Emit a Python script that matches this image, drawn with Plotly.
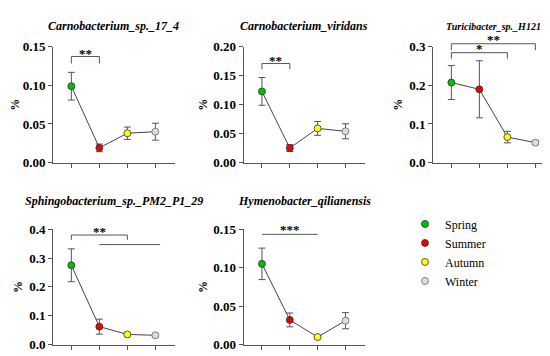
import plotly.graph_objects as go

seasons = ["Spring", "Summer", "Autumn", "Winter"]
season_colors = ["#00c000", "#ee0000", "#ffff00", "#dcdcdc"]
season_edges = ["#333333", "#333333", "#333333", "#666666"]

titles = ["Carnobacterium_sp._17_4", "Carnobacterium_viridans", "Turicibacter_sp._H121",
          "Sphingobacterium_sp._PM2_P1_29", "Hymenobacter_qilianensis"]
title_sizes = [12, 12, 10, 12, 12]

means_1 = [0.099, 0.019, 0.038, 0.040]
errs_1 = [0.018, 0.005, 0.008, 0.011]
means_2 = [0.123, 0.025, 0.059, 0.054]
errs_2 = [0.024, 0.006, 0.012, 0.013]
means_3 = [0.2075, 0.190, 0.066, 0.0515]
errs_3 = [0.044, 0.074, 0.015, 0.005]
means_4 = [0.275, 0.062, 0.035, 0.032]
errs_4 = [0.057, 0.026, 0.004, 0.004]
means_5 = [0.105, 0.032, 0.0097, 0.031]
errs_5 = [0.0205, 0.009, 0.002, 0.0105]

yticks_1 = [0.0, 0.05, 0.10, 0.15]
yticks_2 = [0.0, 0.05, 0.10, 0.15, 0.20]
yticks_3 = [0.0, 0.1, 0.2, 0.3]
yticks_4 = [0.0, 0.1, 0.2, 0.3, 0.4]
yticks_5 = [0.0, 0.05, 0.10, 0.15]
tickdec = [2, 2, 1, 1, 2]

# significance brackets: (from, to, bar level, drop level or None, label, label level)
brackets_1 = [(0, 1, 0.1376, 0.1284, "**", 0.1417)]
brackets_2 = [(0, 1, 0.1712, 0.1612, "**", 0.1773)]
brackets_3 = [(0, 3, 0.3082, 0.2915, "**", 0.318), (0, 2, 0.285, 0.269, "*", 0.295)]
brackets_4 = [(0, 2, 0.380, 0.3634, "**", 0.3924), (1, 3.17, 0.3468, None, "", None)]
brackets_5 = [(0, 2, 0.1434, None, "***", 0.1496)]

means = [means_1, means_2, means_3, means_4, means_5]
errs = [errs_1, errs_2, errs_3, errs_4, errs_5]
yticks = [yticks_1, yticks_2, yticks_3, yticks_4, yticks_5]
brackets = [brackets_1, brackets_2, brackets_3, brackets_4, brackets_5]

W, H = 550, 356
xdoms_px = [(45, 166.7), (235.7, 356.7), (425, 546.7), (45, 166.7), (235.7, 356.7)]
ydoms_px = [(33.3, 154), (33.3, 154), (33.3, 154), (223.7, 344), (223.7, 344)]
title_y_px = [11.7, 11.7, 11.7, 194.5, 194.5]
xrange_ = [-0.655, 3.69]
FONT = "Liberation Serif, Times New Roman, serif"
GREY = "#555555"


def fnt(size):
    return dict(family=FONT, size=size, color="black")


fig = go.Figure()
layout = dict(width=W, height=H, margin=dict(l=0, r=0, t=0, b=0),
              paper_bgcolor="white", plot_bgcolor="white", font=fnt(12))
shapes, annotations = [], []

for i in range(5):
    n = i + 1
    sx = "" if n == 1 else str(n)
    xa, ya = "x" + sx, "y" + sx
    fig.add_trace(go.Scatter(
        x=list(range(4)), y=means[i], mode="lines+markers",
        xaxis=xa, yaxis=ya, showlegend=False,
        line=dict(color="#444444", width=1),
        marker=dict(size=7, color=season_colors, line=dict(color=season_edges, width=0.8)),
        error_y=dict(type="data", array=errs[i], color=GREY, thickness=1, width=3.5),
        cliponaxis=False,
    ))
    x0, x1 = xdoms_px[i]
    yt, yb = ydoms_px[i]
    top = yticks[i][-1]
    layout["xaxis" + sx] = dict(
        domain=[x0 / W, x1 / W], range=xrange_, tickvals=[0, 1, 2, 3],
        showticklabels=False, ticks="outside", ticklen=4, tickwidth=1, tickcolor=GREY,
        showline=True, linecolor=GREY, linewidth=1, showgrid=False, zeroline=False,
        anchor=ya, fixedrange=True)
    layout["yaxis" + sx] = dict(
        domain=[1 - yb / H, 1 - yt / H], range=[0, top], tickvals=yticks[i],
        ticktext=["<b>" + f"{v:.{tickdec[i]}f}" + "</b>" for v in yticks[i]],
        ticks="outside", ticklen=4, tickwidth=1, tickcolor=GREY,
        tickfont=fnt(13),
        showline=True, linecolor=GREY, linewidth=1, showgrid=False, zeroline=False,
        anchor=xa, fixedrange=True,
        title=dict(text="<b>%</b>", standoff=3, font=fnt(12)))
    annotations.append(dict(
        text="<b><i>" + titles[i] + "</i></b>", xref=xa + " domain", x=0.5, yref="paper",
        y=1 - title_y_px[i] / H, xanchor="center", yanchor="middle", showarrow=False,
        font=fnt(title_sizes[i])))
    for (a, b, lvl, drop, lab, laby) in brackets[i]:
        yd = ya + " domain"
        shapes.append(dict(type="line", xref=xa, yref=yd, x0=a, x1=b, y0=lvl / top, y1=lvl / top,
                           line=dict(color=GREY, width=1)))
        if drop is not None:
            for xx in (a, b):
                shapes.append(dict(type="line", xref=xa, yref=yd, x0=xx, x1=xx,
                                   y0=lvl / top, y1=drop / top, line=dict(color=GREY, width=1)))
        if lab:
            annotations.append(dict(
                text="<b>" + lab + "</b>", xref=xa, yref=yd, x=(a + b) / 2, y=laby / top,
                xanchor="center", yanchor="middle", showarrow=False, font=fnt(13)))

for s, c, e in zip(seasons, season_colors, season_edges):
    fig.add_trace(go.Scatter(
        x=[None], y=[None], mode="markers", name=s,
        marker=dict(size=7, color=c, line=dict(color=e, width=0.8))))

layout["legend"] = dict(x=397 / W, y=1 - 203 / H, xanchor="left", yanchor="top",
                        font=fnt(12), bgcolor="rgba(0,0,0,0)", tracegroupgap=0, itemwidth=30)
layout["shapes"] = shapes
layout["annotations"] = annotations
fig.update_layout(**layout)
fig.write_html("out.html")
